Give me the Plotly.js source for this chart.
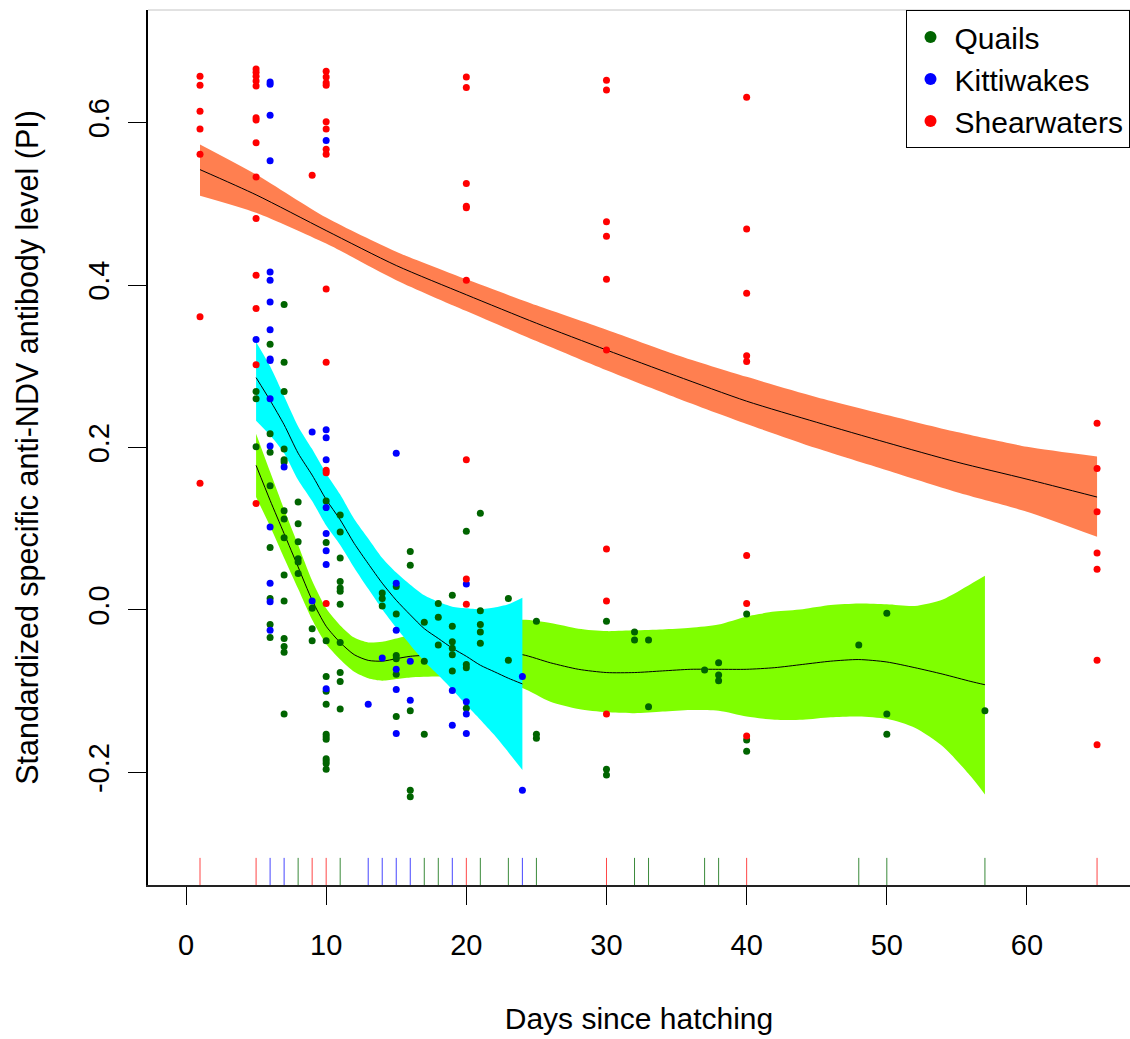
<!DOCTYPE html>
<html><head><meta charset="utf-8">
<script src="https://cdn.plot.ly/plotly-3.0.1.min.js"></script>
<style>html,body{margin:0;padding:0;background:#fff}#chart{width:1130px;height:1039px}</style>
</head><body><div id="chart"></div>
<script>
// ---- observed points (days since hatching, standardized PI) ----
const quailDays = [5,6,7,8,9,10,11,14,15,16,17,18,19,20,21,23,25,30,32,33,37,38,40,48,50,57];
const quailPI = [
  [0.269,0.260,0.201],
  [0.327,0.217,0.194,0.153,0.077,0.014,-0.018,-0.034],
  [0.376,0.305,0.269,0.198,0.185,0.182,0.122,0.112,0.089,0.043,0.011,-0.035,-0.045,-0.052,-0.128],
  [0.133,0.106,0.084,0.063,0.059,0.045],
  [0.002,-0.023,-0.038],
  [0.134,0.083,-0.038,-0.082,-0.100,-0.116,-0.153,-0.156,-0.159,-0.183,-0.186,-0.189,-0.196],
  [0.117,0.096,0.064,0.035,0.027,0.023,0.007,-0.040,-0.077,-0.088,-0.122],
  [0.021,0.014,0.005],
  [0.029,-0.005,-0.056,-0.060,-0.079,-0.131],
  [0.072,0.055,-0.124,-0.222,-0.230],
  [-0.015,-0.063,-0.153],
  [0.008,-0.009,-0.043],
  [0.018,-0.020,-0.039,-0.047,-0.055,-0.075],
  [0.097,-0.067,-0.071,-0.121],
  [0.119,-0.001,-0.018,-0.027,-0.041],
  [0.014,-0.062],
  [-0.014,-0.153,-0.158],
  [-0.014,-0.196,-0.203],
  [-0.027,-0.037],
  [-0.037,-0.119],
  [-0.074],
  [-0.065,-0.080,-0.087],
  [-0.005,-0.160,-0.174],
  [-0.043],
  [-0.004,-0.128,-0.153],
  [-0.124]
];
const kittiDays = [5,6,7,9,10,13,14,15,16,19,20,24];
const kittiPI = [
  [0.333],
  [0.650,0.647,0.609,0.553,0.416,0.406,0.379,0.345,0.309,0.307,0.260,0.202,0.102,0.033,0.010,-0.025],
  [0.176],
  [0.219,0.011],
  [0.578,0.222,0.212,0.185,0.126,0.094,0.073,0.056,-0.097],
  [-0.116],
  [-0.059],
  [0.193,0.033,-0.025,-0.073,-0.098,-0.152],
  [-0.063,-0.111],
  [-0.099,-0.142],
  [0.032,-0.113,-0.128,-0.152],
  [-0.082,-0.222]
];
const shearDays = [1,5,9,10,20,30,40,65];
const shearPI = [
  [0.657,0.646,0.614,0.592,0.561,0.361,0.156],
  [0.666,0.662,0.657,0.651,0.645,0.606,0.603,0.575,0.533,0.482,0.412,0.371,0.302,0.131],
  [0.535],
  [0.663,0.656,0.649,0.646,0.601,0.592,0.567,0.561,0.395,0.305,0.172,0.169,0.008],
  [0.656,0.643,0.525,0.497,0.495,0.406,0.185,0.038,0.007],
  [0.652,0.640,0.478,0.460,0.407,0.320,0.075,0.011,-0.128],
  [0.631,0.469,0.390,0.313,0.306,0.067,0.008,-0.155],
  [0.230,0.174,0.121,0.070,0.050,-0.062,-0.166]
];

// ---- smoothed fits with confidence bands ----
const quailFitX = [5,6,7,8,9,10,11,12,13,14,15,16,18,20,22,24,26,28,30,32,34,36,38,40,42,44,46,48,50,52,54,56,57];
const quailFit = [0.178,0.135,0.094,0.053,0.012,-0.020,-0.040,-0.055,-0.062,-0.063,-0.060,-0.057,-0.055,-0.053,-0.053,-0.055,-0.065,-0.073,-0.077,-0.077,-0.075,-0.073,-0.073,-0.073,-0.071,-0.067,-0.063,-0.061,-0.064,-0.071,-0.079,-0.088,-0.092];
const quailLo = [0.139,0.103,0.064,0.026,-0.012,-0.042,-0.061,-0.076,-0.084,-0.087,-0.085,-0.083,-0.082,-0.083,-0.088,-0.096,-0.113,-0.122,-0.126,-0.127,-0.125,-0.123,-0.124,-0.131,-0.135,-0.135,-0.132,-0.131,-0.134,-0.145,-0.168,-0.205,-0.227];
const quailHi = [0.217,0.170,0.124,0.080,0.036,0.002,-0.019,-0.034,-0.040,-0.039,-0.035,-0.031,-0.028,-0.023,-0.018,-0.012,-0.016,-0.023,-0.026,-0.025,-0.024,-0.022,-0.018,-0.008,-0.002,0.001,0.006,0.008,0.007,0.005,0.013,0.032,0.042];

const kittiFitX = [5,6,7,8,9,10,11,12,13,14,15,16,17,18,19,20,21,22,23,24];
const kittiFit = [0.286,0.258,0.228,0.193,0.166,0.136,0.111,0.082,0.057,0.033,0.012,-0.006,-0.023,-0.035,-0.047,-0.057,-0.068,-0.076,-0.084,-0.091];
const kittiLo = [0.233,0.215,0.193,0.160,0.134,0.104,0.080,0.052,0.026,0.001,-0.022,-0.043,-0.063,-0.080,-0.098,-0.117,-0.135,-0.154,-0.175,-0.197];
const kittiHi = [0.330,0.300,0.263,0.226,0.198,0.168,0.142,0.112,0.088,0.064,0.046,0.031,0.018,0.010,0.004,0.002,0.001,0.003,0.007,0.015];

const shearFitX = [1,5,10,15,20,25,30,35,40,45,50,55,60,65];
const shearFit = [0.542,0.511,0.467,0.424,0.388,0.353,0.320,0.288,0.257,0.231,0.206,0.182,0.161,0.139];
const shearLo = [0.510,0.489,0.451,0.406,0.368,0.331,0.295,0.261,0.229,0.199,0.172,0.145,0.121,0.090];
const shearHi = [0.573,0.536,0.483,0.441,0.407,0.375,0.345,0.314,0.287,0.262,0.240,0.219,0.201,0.189];

// ---- axis ticks ----
const xTicks = [0,10,20,30,40,50,60];
const yTicks = [-0.2,0.0,0.2,0.4,0.6];
const yTickText = ['-0.2','0.0','0.2','0.4','0.6'];

const FONT = 'Liberation Sans, Arial, Helvetica, sans-serif';

function flatten(days, vals){
  const x = [], y = [];
  days.forEach((d,i) => vals[i].forEach(v => { x.push(d); y.push(v); }));
  return {x, y};
}
function band(xs, lo, hi, color){
  return [
    {type:'scatter', x: xs, y: lo, mode:'lines', line:{width:0, color: color, shape:'spline', smoothing:0.7},
      hoverinfo:'skip', showlegend:false},
    {type:'scatter', x: xs, y: hi, mode:'lines', fill:'tonexty', fillcolor: color,
      line:{width:0, color: color, shape:'spline', smoothing:0.7}, hoverinfo:'skip', showlegend:false}
  ];
}
function fitLine(xs, ys){
  return {type:'scatter', x: xs, y: ys, mode:'lines', line:{color:'black', width:1, shape:'spline', smoothing:0.7},
    hoverinfo:'skip', showlegend:false};
}
function pts(days, vals, color, name){
  const f = flatten(days, vals);
  return {type:'scatter', x: f.x, y: f.y, mode:'markers', name: name,
    marker:{color: color, size: 7}};
}
// rug: a later-drawn species covers an earlier one at the same day
function rug(days, color, coveredBy){
  return days.filter(d => !coveredBy.some(arr => arr.includes(d))).map(d => ({
    type:'line', xref:'x', yref:'paper', x0:d, x1:d, y0:0, y1:0.031, line:{color: color, width:1}}));
}

const traces = [].concat(
  band(quailFitX, quailLo, quailHi, '#7FFF00'),
  [fitLine(quailFitX, quailFit)],
  band(kittiFitX, kittiLo, kittiHi, '#00FFFF'),
  [fitLine(kittiFitX, kittiFit)],
  band(shearFitX, shearLo, shearHi, '#FF7F50'),
  [fitLine(shearFitX, shearFit)],
  [pts(quailDays, quailPI, '#006400', 'Quails'),
   pts(kittiDays, kittiPI, '#0000FF', 'Kittiwakes'),
   pts(shearDays, shearPI, '#FF0000', 'Shearwaters')]
);

const shapes = [].concat(
  rug(quailDays, '#3a8a3a', [kittiDays, shearDays]),
  rug(kittiDays, '#4646ff', [shearDays]),
  rug(shearDays, '#ff4646', []),
  [{type:'line', xref:'paper', yref:'paper', x0:0, x1:1, y0:1, y1:1, line:{color:'#c4c4c4', width:1}}]
);

const layout = {
  width: 1130, height: 1039,
  margin: {l:148, r:0, t:10, b:154, pad:0},
  paper_bgcolor:'white', plot_bgcolor:'white',
  font: {family: FONT, size: 29, color:'black'},
  showlegend: true,
  legend: {x:0.9995, xanchor:'right', y:1, yanchor:'top', bgcolor:'white', bordercolor:'black', borderwidth:1,
    font:{family: FONT, size:30, color:'black'}, traceorder:'normal', itemsizing:'constant', itemwidth:38},
  xaxis: {range:[-2.711, 67.35], tickvals: xTicks, ticks:'outside', ticklen:18, tickwidth:1, tickcolor:'black',
    showline:true, linecolor:'#222', linewidth:2, mirror:false, showgrid:false, zeroline:false,
    tickfont:{family: FONT, size:29}, ticklabelstandoff: 15,
    title:{text:'Days since hatching', font:{family: FONT, size:30}, standoff: 48}},
  yaxis: {range:[-0.3385, 0.7385], tickvals: yTicks, ticktext: yTickText, tickangle:-90,
    ticks:'outside', ticklen:18, tickwidth:1, tickcolor:'black',
    showline:true, linecolor:'black', linewidth:2, mirror:false, showgrid:false, zeroline:false,
    tickfont:{family: FONT, size:29}, ticklabelstandoff: 7,
    title:{text:'Standardized specific anti-NDV antibody level (PI)', font:{family: FONT, size:30.5}, standoff: 36}},
  shapes: shapes
};

Plotly.newPlot('chart', traces, layout, {staticPlot:true, displayModeBar:false});
</script>
</body></html>
